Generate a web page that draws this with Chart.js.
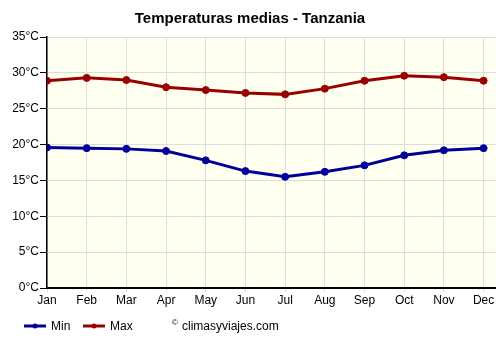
<!DOCTYPE html>
<html>
<head>
<meta charset="utf-8">
<script src="https://cdn.jsdelivr.net/npm/chart.js@4.4.0/dist/chart.umd.min.js"></script>
<style>
  body { margin: 0; background: #fff; }
  #wrap { width: 500px; height: 350px; }
</style>
</head>
<body>
<div id="wrap"><canvas id="tempChart" width="500" height="350"></canvas></div>
<script>
var months = ["Jan", "Feb", "Mar", "Apr", "May", "Jun", "Jul", "Aug", "Sep", "Oct", "Nov", "Dec"];
var minTemps = [19.6, 19.5, 19.4, 19.1, 17.8, 16.3, 15.5, 16.2, 17.1, 18.5, 19.2, 19.5];
var maxTemps = [28.9, 29.3, 29.0, 28.0, 27.6, 27.2, 27.0, 27.8, 28.9, 29.6, 29.4, 28.9];
var chartTitle = "Temperaturas medias - Tanzania";
var credit = "climasyviajes.com";

var FONT = "'Liberation Sans', Arial, sans-serif";

function toPoints(arr) {
    return arr.map(function (v, i) { return { x: i, y: v }; });
}

// plot background, title, legend and credit
var extras = {
    id: 'extras',
    beforeDraw: function (chart) {
        var ctx = chart.ctx, a = chart.chartArea;
        ctx.save();
        ctx.fillStyle = "#fffff0";
        ctx.fillRect(a.left, a.top, a.right - a.left, a.bottom - a.top);
        ctx.restore();
    },
    afterDraw: function (chart) {
        var ctx = chart.ctx;
        ctx.save();
        ctx.fillStyle = "#000";
        ctx.font = "bold 15px " + FONT;
        ctx.textAlign = "center";
        ctx.textBaseline = "middle";
        ctx.fillText(chartTitle, 250, 19);

        var items = [
            { label: "Min", color: "#000099", x: 24 },
            { label: "Max", color: "#990000", x: 83 }
        ];
        var y = 326;
        items.forEach(function (it) {
            ctx.strokeStyle = it.color;
            ctx.lineWidth = 3;
            ctx.beginPath();
            ctx.moveTo(it.x, y);
            ctx.lineTo(it.x + 22, y);
            ctx.stroke();
            ctx.fillStyle = it.color;
            ctx.beginPath();
            ctx.arc(it.x + 11, y, 2.5, 0, Math.PI * 2);
            ctx.fill();
            ctx.fillStyle = "#000";
            ctx.font = "12px " + FONT;
            ctx.textAlign = "left";
            ctx.fillText(it.label, it.x + 27, y + 1);
        });
        ctx.font = "8px " + FONT;
        ctx.fillText("\u00a9", 172, y - 3);
        ctx.font = "12px " + FONT;
        ctx.fillText(credit, 182, y + 1);
        ctx.restore();
    }
};

var config = {
    type: 'line',
    data: {
        datasets: [{
            label: 'Min',
            data: toPoints(minTemps),
            borderColor: "#000099",
            backgroundColor: "#000099",
            borderWidth: 3,
            pointRadius: 3.5,
            pointBorderWidth: 1,
            pointHoverRadius: 3.5,
            tension: 0
        }, {
            label: 'Max',
            data: toPoints(maxTemps),
            borderColor: "#990000",
            backgroundColor: "#990000",
            borderWidth: 3,
            pointRadius: 3.5,
            pointBorderWidth: 1,
            pointHoverRadius: 3.5,
            tension: 0
        }]
    },
    options: {
        responsive: false,
        animation: false,
        events: [],
        layout: { padding: { top: 37, right: 0, left: 0, bottom: 0 } },
        plugins: {
            legend: { display: false },
            title: { display: false },
            tooltip: { enabled: false }
        },
        scales: {
            x: {
                type: 'linear',
                min: 0,
                max: 11.3,
                afterFit: function (s) { s.height = 62; },
                afterBuildTicks: function (s) {
                    s.ticks = months.map(function (m, i) { return { value: i }; });
                },
                ticks: {
                    stepSize: 1,
                    autoSkip: false,
                    maxRotation: 0,
                    color: "#000",
                    font: { family: FONT, size: 12 },
                    padding: 1,
                    callback: function (v) { return months[v]; }
                },
                grid: { color: "#dddddd", tickLength: 4, tickColor: "#dddddd" },
                border: { color: "#000", width: 2 }
            },
            y: {
                min: 0,
                max: 35,
                afterFit: function (s) { s.width = 47; },
                ticks: {
                    stepSize: 5,
                    color: "#000",
                    font: { family: FONT, size: 12 },
                    padding: 1,
                    callback: function (v) { return v + "°C"; }
                },
                grid: { color: "#dddddd", tickLength: 7, tickColor: "#000" },
                border: { color: "#000", width: 1.5 }
            }
        }
    },
    plugins: [extras]
};

new Chart(document.getElementById('tempChart'), config);
</script>
</body>
</html>
